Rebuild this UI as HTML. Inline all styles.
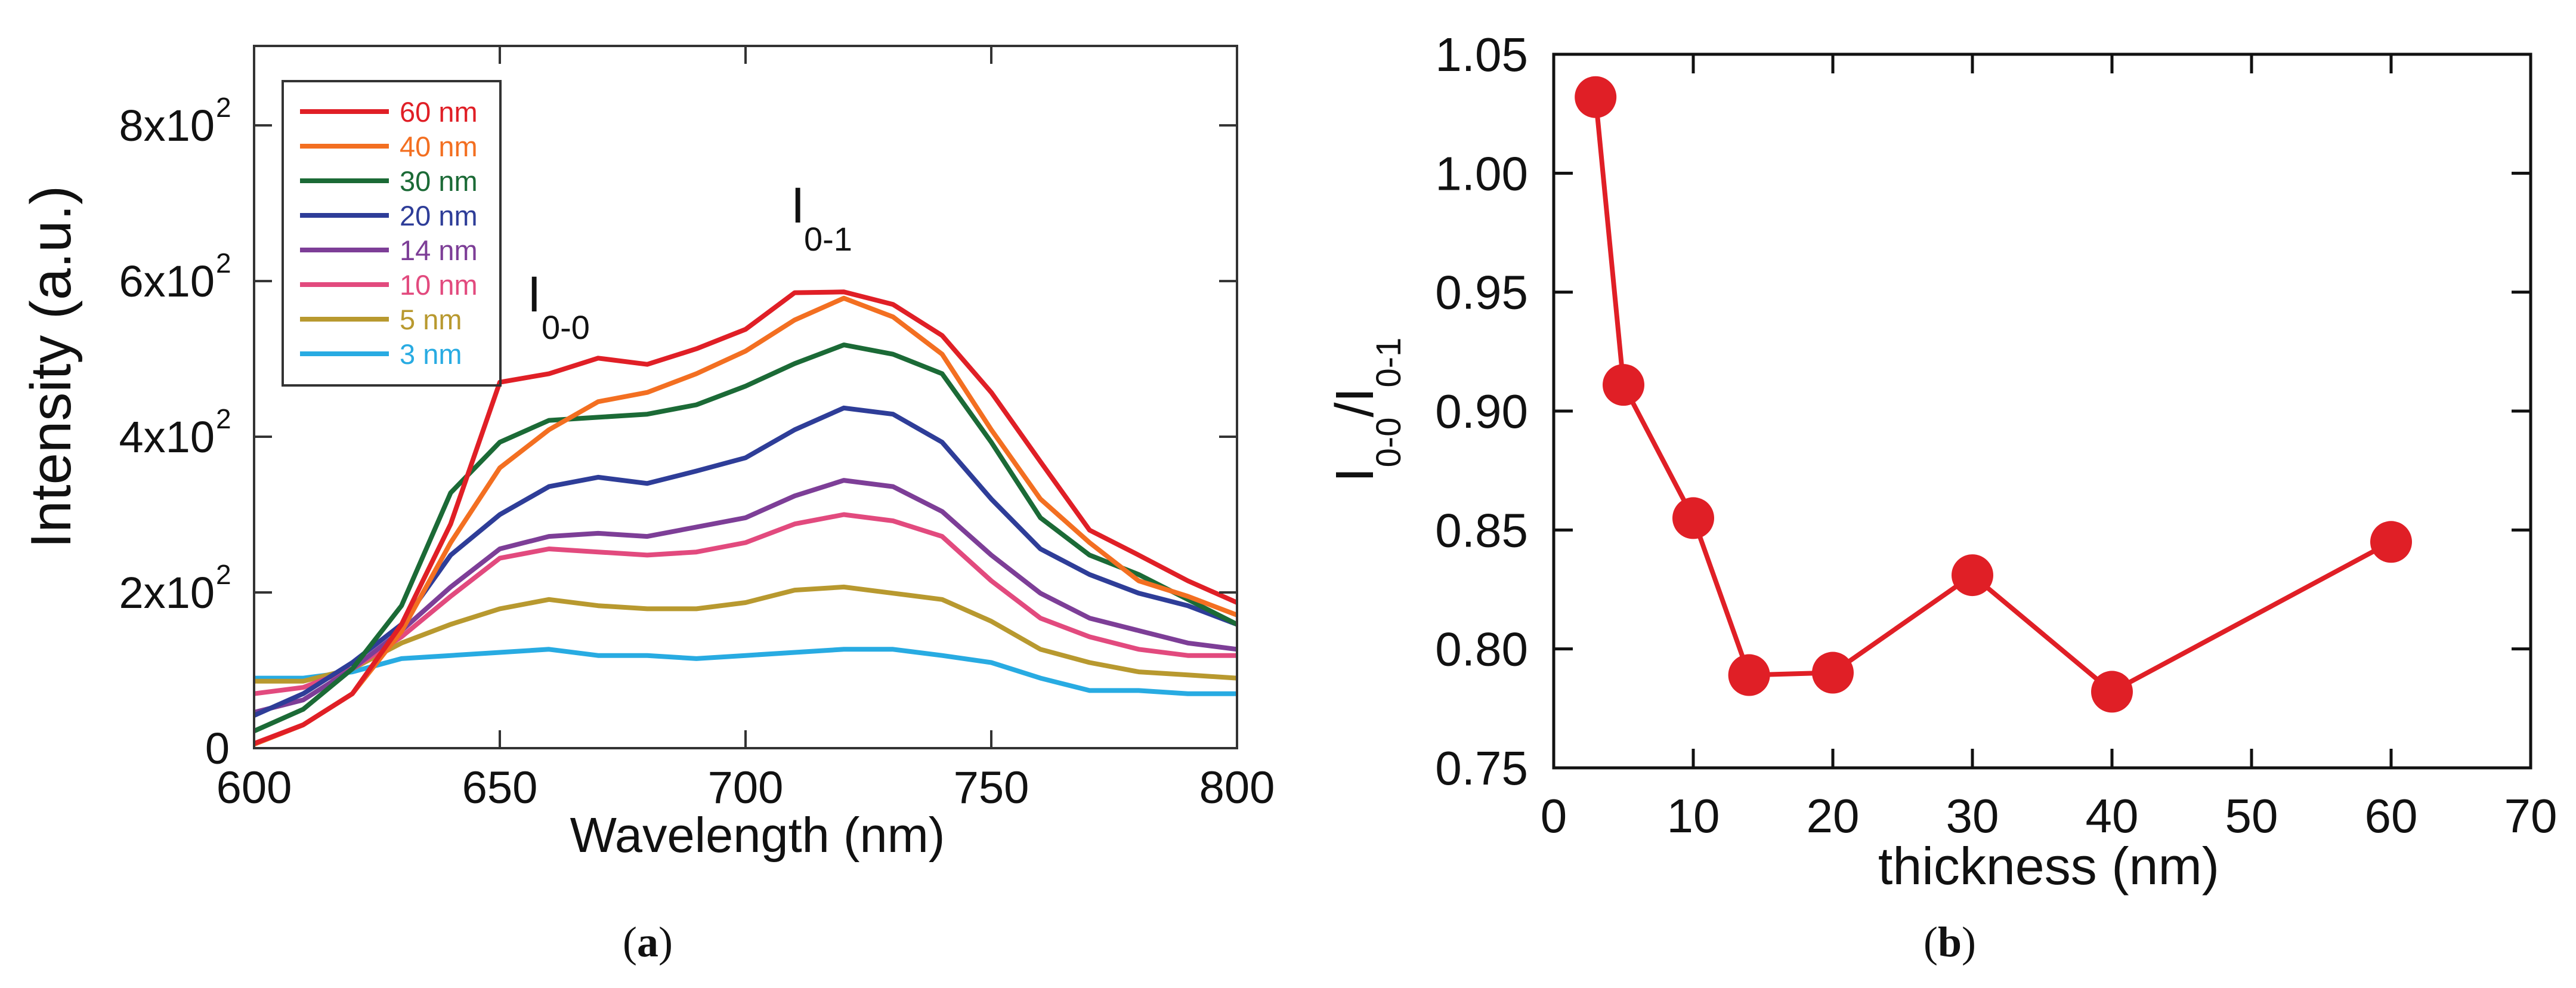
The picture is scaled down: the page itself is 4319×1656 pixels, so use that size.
<!DOCTYPE html>
<html><head><meta charset="utf-8"><style>
html,body{margin:0;padding:0;background:#fff;}
svg{display:block;font-family:"Liberation Sans",sans-serif;}
</style></head><body>
<svg id="fig" width="4319" height="1656" viewBox="0 0 4319 1656" xmlns="http://www.w3.org/2000/svg">
<g id="pa"></g>
<g id="pb"></g>
</svg>
<script>
const NS='http://www.w3.org/2000/svg';
// ---- Panel (a) data ----
const wavelengths=[600,610,620,630,640,650,660,670,680,690,700,710,720,730,740,750,760,770,780,790,800];
const seriesLabels=['60 nm','40 nm','30 nm','20 nm','14 nm','10 nm','5 nm','3 nm'];
const seriesColors=['#e01f26','#f36f21','#1b6a36','#2e3d98','#7d3e97','#e24a7e','#b8992f','#28abe2'];
const s60=[6,30,70,159,288,470,481,501,493,513,538,585,586,570,530,457,368,280,248,215,187];
const s40=[5,30,70,150,264,360,409,445,457,481,510,550,578,554,506,409,320,264,215,195,171];
const s30=[22,50,102,183,328,393,421,425,429,441,465,494,518,506,481,393,296,248,223,191,159];
const s20=[42,70,110,159,248,300,336,348,340,356,373,409,437,429,393,320,256,223,199,183,159];
const s14=[46,62,102,151,207,256,272,276,272,284,296,324,344,336,304,248,199,167,151,135,127];
const s10=[70,78,102,143,195,244,256,252,248,252,264,288,300,292,272,215,167,143,127,119,119];
const s5=[86,86,102,135,159,179,191,183,179,179,187,203,207,199,191,163,127,110,98,94,90];
const s3=[90,90,98,115,119,123,127,119,119,115,119,123,127,127,119,110,90,74,74,70,70];
const seriesValues=[s60,s40,s30,s20,s14,s10,s5,s3];
const xTicksA=[600,650,700,750,800];
const yTicksA=[0,200,400,600,800];
const yTickMantA=['0','2','4','6','8'];
// ---- Panel (b) data ----
const thickness=[3,5,10,14,20,30,40,60];
const ratio=[1.032,0.911,0.855,0.789,0.790,0.831,0.782,0.845];
const xTicksB=[0,10,20,30,40,50,60,70];
const yTicksB=[0.75,0.80,0.85,0.90,0.95,1.00,1.05];

function el(tag,attrs,parent,text){const e=document.createElementNS(NS,tag);for(const k in attrs)e.setAttribute(k,attrs[k]);if(text!==undefined)e.textContent=text;parent.appendChild(e);return e;}

// Panel (a)
const A={x0:426,x1:2074,y0:1254,y1:77};
const xa=v=>A.x0+(v-600)/200*(A.x1-A.x0);
const ya=v=>A.y0-v/902*(A.y0-A.y1);
const pa=document.getElementById('pa');
for(let i=seriesValues.length-1;i>=0;i--){
  const d=seriesValues[i].map((v,j)=>(j?'L':'M')+xa(wavelengths[j]).toFixed(1)+' '+ya(v).toFixed(1)).join(' ');
  const p=el('path',{d:d,fill:'none',stroke:seriesColors[i],'stroke-width':8,'stroke-linejoin':'round'},pa);
  
  
}
const fa=el('rect',{x:A.x0,y:A.y1,width:A.x1-A.x0,height:A.y0-A.y1,fill:'none',stroke:'#333','stroke-width':4},pa);


xTicksA.forEach(t=>{
  const x=xa(t);
  el('line',{x1:x,x2:x,y1:A.y0,y2:A.y0-30,stroke:'#333','stroke-width':4},pa);
  el('line',{x1:x,x2:x,y1:A.y1,y2:A.y1+30,stroke:'#333','stroke-width':4},pa);
  const tx=el('text',{x:x,y:A.y0+92,'font-size':76,'text-anchor':'middle',fill:'#111'},pa,String(t));
  
  
});
yTicksA.forEach((t,i)=>{
  const y=ya(t);
  el('line',{x1:A.x0,x2:A.x0+30,y1:y,y2:y,stroke:'#333','stroke-width':4},pa);
  el('line',{x1:A.x1,x2:A.x1-30,y1:y,y2:y,stroke:'#333','stroke-width':4},pa);
  const tx=el('text',{x:i?360:385,y:y+26,'font-size':74,'text-anchor':'end',fill:'#111'},pa,i?yTickMantA[i]+'x10':'0');
  
  
  if(i){const sp=el('text',{x:362,y:y-14,'font-size':46,fill:'#111'},pa,'2');
  
  }
});
const lb=el('rect',{x:474,y:136,width:365,height:510,fill:'none',stroke:'#333','stroke-width':4},pa);


seriesLabels.forEach((s,i)=>{
  const y=187+i*58;
  const ln=el('line',{x1:503,x2:652,y1:y,y2:y,stroke:seriesColors[i],'stroke-width':8},pa);
  
  
  const t=el('text',{x:670,y:y+17,'font-size':47,fill:seriesColors[i]},pa,s);
  
  
});
const ytA=el('text',{x:0,y:0,'font-size':96,'text-anchor':'middle',fill:'#111',transform:'translate(118 615) rotate(-90)'},pa,'Intensity (a.u.)');


const xtA=el('text',{x:1270,y:1428,'font-size':83,'text-anchor':'middle',fill:'#111'},pa,'Wavelength (nm)');


const an1=el('text',{x:884,y:522,'font-size':84,fill:'#111'},pa,'I');


el('text',{x:908,y:568,'font-size':56,fill:'#111'},pa,'0-0');
const an2=el('text',{x:1326,y:373,'font-size':84,fill:'#111'},pa,'I');


el('text',{x:1348,y:420,'font-size':56,fill:'#111'},pa,'0-1');
const ca=el('text',{x:1086,y:1603,'font-size':72,'text-anchor':'middle',fill:'#111','font-family':'Liberation Serif, serif'},pa);


ca.innerHTML='(<tspan font-weight="bold">a</tspan>)';

// Panel (b)
const B={x0:2605,x1:4243,y0:1287,y1:91};
const xb=v=>B.x0+v/70*(B.x1-B.x0);
const yb=v=>B.y0-(v-0.75)/0.30*(B.y0-B.y1);
const pb=document.getElementById('pb');
const fb=el('path',{d:`M${B.x0} ${B.y1} H${B.x1} V${B.y0} H${B.x0} Z`,fill:'none',stroke:'#111','stroke-width':5},pb);


xTicksB.forEach(t=>{
  const x=xb(t);
  el('line',{x1:x,x2:x,y1:B.y0,y2:B.y0-32,stroke:'#111','stroke-width':5},pb);
  el('line',{x1:x,x2:x,y1:B.y1,y2:B.y1+32,stroke:'#111','stroke-width':5},pb);
  const tx=el('text',{x:x,y:B.y0+108,'font-size':80,'text-anchor':'middle',fill:'#111'},pb,String(t));
  
  
});
yTicksB.forEach(t=>{
  const y=yb(t);
  el('line',{x1:B.x0,x2:B.x0+32,y1:y,y2:y,stroke:'#111','stroke-width':5},pb);
  el('line',{x1:B.x1,x2:B.x1-32,y1:y,y2:y,stroke:'#111','stroke-width':5},pb);
  const tx=el('text',{x:2562,y:y+28,'font-size':80,'text-anchor':'end',fill:'#111'},pb,t.toFixed(2));
  
  
});
const ld=thickness.map((t,i)=>(i?'L':'M')+xb(t).toFixed(1)+' '+yb(ratio[i]).toFixed(1)).join(' ');
const rl=el('path',{d:ld,fill:'none',stroke:'#e01f26','stroke-width':8},pb);


thickness.forEach((t,i)=>{
  const c=el('circle',{cx:xb(t),cy:yb(ratio[i]),r:35,fill:'#e01f26'},pb);
  
  
});
const ytB=el('text',{x:0,y:0,'font-size':90,'text-anchor':'middle',fill:'#111',transform:'translate(2302 687) rotate(-90)'},pb);


ytB.innerHTML='I<tspan font-size="58" dy="46">0-0</tspan><tspan dy="-46">/I</tspan><tspan font-size="58" dy="46">0-1</tspan>';
const xtB=el('text',{x:3435,y:1482,'font-size':88,'text-anchor':'middle',fill:'#111'},pb,'thickness (nm)');


const cb=el('text',{x:3269,y:1603,'font-size':72,'text-anchor':'middle',fill:'#111','font-family':'Liberation Serif, serif'},pb);


cb.innerHTML='(<tspan font-weight="bold">b</tspan>)';
</script>
</body></html>
